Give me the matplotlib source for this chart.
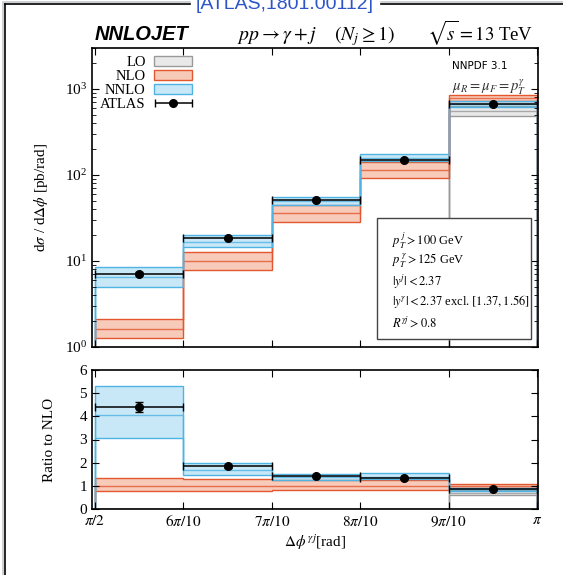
import numpy as np
import matplotlib
matplotlib.use('Agg')
import matplotlib.pyplot as plt
from matplotlib.patches import Patch, Rectangle
from matplotlib.lines import Line2D
from matplotlib.ticker import LogLocator, NullFormatter
from matplotlib.container import ErrorbarContainer
from matplotlib.legend_handler import HandlerErrorbar

plt.rcParams['font.family'] = ['Liberation Serif', 'DejaVu Serif']
plt.rcParams['mathtext.fontset'] = 'stix'

# bin edges in delta phi (rad)
edges = np.pi * np.array([5, 6, 7, 8, 9, 10]) / 10.0
tick_labels = [r'$\pi/2$', r'$6\pi/10$', r'$7\pi/10$', r'$8\pi/10$', r'$9\pi/10$', r'$\pi$']

# cross sections, pb/rad
lo_c = [0, 0, 0, 0, 555]
lo_lo = [0, 0, 0, 0, 490]
lo_hi = [0, 0, 0, 0, 630]
nlo_c = [1.62, 10.0, 36.0, 113, 788]
nlo_lo = [1.26, 7.9, 28.8, 92.4, 722]
nlo_hi = [2.14, 12.8, 44.9, 141, 847]
nnlo_c = [6.55, 16.7, 49.5, 158, 670]
nnlo_lo = [4.93, 14.6, 44.9, 144, 615]
nnlo_hi = [8.6, 19.9, 54.8, 176, 725]
atlas = [7.14, 18.5, 51.2, 150, 673]
atlas_err = [0.35, 0.6, 1.6, 4.5, 20]

COLS = {
    'LO': ('#bdbdbd', '#9a9a9a'),
    'NLO': ('#e8602c', '#e4572e'),
    'NNLO': ('#5bbce8', '#4fb3e3'),
}

fig = plt.figure(figsize=(5.63, 5.75), dpi=100)
ax = fig.add_axes([92/563, 1-347/575, 446/563, 299/575])
axr = fig.add_axes([92/563, 1-509/575, 446/563, 139/575])

nlo_ref = np.array(nlo_c)


def band(a, c, lo, hi, key, ratio=False):
    c, lo, hi = np.array(c, float), np.array(lo, float), np.array(hi, float)
    if ratio:
        c, lo, hi = c/nlo_ref, lo/nlo_ref, hi/nlo_ref
    fc, ec = COLS[key]
    a.stairs(hi, edges, baseline=lo, fill=True, color=fc, alpha=0.33, lw=0)
    a.stairs(hi, edges, color=ec, lw=1.0)
    a.stairs(lo, edges, color=ec, lw=1.0)
    a.stairs(c, edges, color=ec, lw=1.0, alpha=0.8)


mid = 0.5*(edges[1:] + edges[:-1])
half = 0.5*(edges[1:] - edges[:-1])

for a, r in ((ax, False), (axr, True)):
    band(a, lo_c, lo_lo, lo_hi, 'LO', r)
    band(a, nlo_c, nlo_lo, nlo_hi, 'NLO', r)
    band(a, nnlo_c, nnlo_lo, nnlo_hi, 'NNLO', r)
    y = np.array(atlas)
    e = np.array(atlas_err)
    if r:
        y, e = y/nlo_ref, e/nlo_ref
    a.errorbar(mid, y, xerr=half, yerr=e, fmt='o', color='black', ms=5.5,
               elinewidth=1.1, capsize=3, capthick=1.0, zorder=5)
    a.set_xlim(np.pi/2 - 0.011, np.pi + 0.004)
    a.tick_params(which='both', direction='in', top=True, right=True, labelsize=11)
    a.tick_params(which='major', length=5)
    a.tick_params(which='minor', length=3)
    a.set_xticks(edges)
    for s in a.spines.values():
        s.set_linewidth(1.2)

ax.set_yscale('log')
ax.set_ylim(1, 3000)
ax.yaxis.set_major_locator(LogLocator(base=10))
ax.yaxis.set_minor_locator(LogLocator(base=10, subs=np.arange(2, 10)))
ax.yaxis.set_minor_formatter(NullFormatter())
ax.set_xticklabels([])
ax.set_ylabel(r'd$\sigma$ / d$\Delta\phi$ [pb/rad]', fontsize=11)

axr.set_ylim(0, 6)
axr.set_yticks(range(7))
axr.set_xticklabels(tick_labels)
axr.set_ylabel('Ratio to NLO', fontsize=11)
axr.set_xlabel(r'$\Delta\phi^{\,\gamma j}$[rad]', fontsize=11, labelpad=2)
ax.yaxis.set_label_coords(-0.095, 0.5)
axr.yaxis.set_label_coords(-0.08, 0.5)

# legend
dummy = ax.errorbar([np.nan], [np.nan], xerr=[1], fmt='o', color='black', ms=5.5,
                    elinewidth=1.1, capsize=3)
handles = [Patch(facecolor=COLS[k][0] + '55', edgecolor=COLS[k][1], lw=1.0) for k in ('LO', 'NLO', 'NNLO')]
handles.append(dummy)
leg = ax.legend(handles, ['LO', 'NLO', 'NNLO', 'ATLAS'], loc='upper left', markerfirst=False,
                frameon=False, fontsize=10.5, handlelength=2.6, handleheight=0.7,
                labelspacing=0.05, borderaxespad=0.15, handletextpad=0.6,
                bbox_to_anchor=(0.0, 1.0),
                handler_map={ErrorbarContainer: HandlerErrorbar(xerr_size=1.25)})

# PDF/scale info
ax.text(0.808, 0.955, 'NNPDF 3.1', transform=ax.transAxes, family='DejaVu Sans', fontsize=7.5,
        va='top', ha='left')
ax.text(0.808, 0.9, r'$\mu_R = \mu_F = p_T^{\gamma}$', transform=ax.transAxes, fontsize=10.5,
        va='top', ha='left', color='#333333')

# cuts box
ax.add_patch(Rectangle((0.64, 0.028), 0.345, 0.405, transform=ax.transAxes, fill=True,
                       facecolor='white', edgecolor='#444444', lw=1.0, zorder=6))
cuts = [r'$p_T^{\,j} > 100$ GeV', r'$p_T^{\,\gamma} > 125$ GeV', r'$|y^{j}| < 2.37$',
        r'$|y^{\gamma}| < 2.37$ excl. $[1.37, 1.56]$', r'$R^{\gamma j} > 0.8$']
for i, t in enumerate(cuts):
    ax.text(0.672, 0.355 - i*0.068, t, transform=ax.transAxes, fontsize=9,
            va='center', ha='left', zorder=7)

# header
fig.text(95/563, 1-40/575, 'NNLOJET', family='Liberation Sans', weight='bold', style='italic',
         fontsize=14.5, va='baseline', ha='left')
fig.text(316/563, 1-40/575, r'$pp \rightarrow \gamma + j \quad\ (N_j \geq 1)$', fontsize=14.2,
         va='baseline', ha='center')
fig.text(533/563, 1-40/575, r'$\sqrt{s} = 13$ TeV', fontsize=13.5, va='baseline', ha='right')

# frame
for x0, x1 in ((5/563, 190/563), (381/563, 1.0)):
    fig.add_artist(Line2D([x0, x1], [1-2/575]*2, color='#c4c8cc', lw=1.2))
    fig.add_artist(Line2D([x0, x1], [1-4.3/575]*2, color='black', lw=1.2))
fig.add_artist(Line2D([3/563]*2, [0, 1-2/575], color='#c4c8cc', lw=1.2))
fig.add_artist(Line2D([5.3/563]*2, [0, 1-4.3/575], color='black', lw=1.2))
fig.text(285/563, 1-9/575, '[ATLAS,1801.00112]', family='Liberation Sans', fontsize=14,
         color='#2d55c8', va='baseline', ha='center')

fig.savefig('out.png', dpi=100)
